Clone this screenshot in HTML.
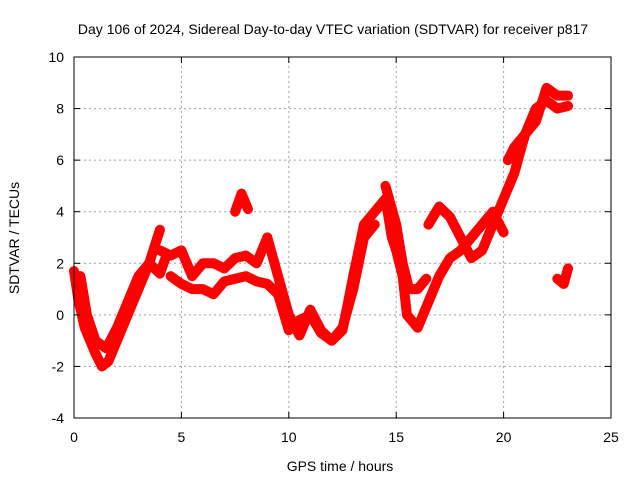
<!DOCTYPE html>
<html><head><meta charset="utf-8"><style>
body{margin:0;background:#fff}
svg{display:block;font-family:"Liberation Sans",sans-serif}
</style></head><body>
<svg id="chart" width="640" height="480" viewBox="0 0 640 480">
<text x="333" y="34" font-size="14" text-anchor="middle">Day 106 of 2024, Sidereal Day-to-day VTEC variation (SDTVAR) for receiver p817</text>
<text x="340" y="471" font-size="14" text-anchor="middle">GPS time / hours</text>
<text x="19" y="238" font-size="14" text-anchor="middle" transform="rotate(-90 19 238)">SDTVAR / TECUs</text>
<g id="grid"></g>
<g id="series"></g>
<rect x="74" y="57" width="537" height="361" fill="none" stroke="#000" stroke-width="1"/>
<g id="ticks"></g>
</svg>
<script>
const xTicks=[0,5,10,15,20,25];
const yTicks=[-4,-2,0,2,4,6,8,10];
const trackA=[[0,1.7],[0.2,0.6],[0.5,-0.5],[1.0,-1.5],[1.3,-2.0],[1.6,-1.8],[2,-1],[2.5,0],[3,1],[3.5,2],[4,3.3]];
const trackA2=[[0.3,1.5],[0.6,0],[1,-1],[1.5,-1.3],[2,-0.5],[2.5,0.5],[3,1.5],[3.5,2],[4,1.6],[4.3,2.3]];
const trackB=[[4,2.5],[4.5,2.3],[5,2.5],[5.5,1.5],[6,2],[6.5,2],[7,1.8],[7.5,2.2],[8,2.3],[8.5,2.0],[9,3]];
const trackC=[[4.5,1.5],[5,1.2],[5.5,1.0],[6,1.0],[6.5,0.8],[7,1.3],[7.5,1.4],[8,1.5],[8.5,1.3],[9,1.2],[9.5,0.8],[10,-0.6],[10.5,-0.2],[11,0],[11.5,-0.7],[12,-1],[12.5,-0.5],[13,1],[13.5,3],[14,3.5]];
const trackSpike=[[7.5,4.0],[7.8,4.7],[8.1,4.1]];
const trackD=[[9,3],[9.5,1.5],[10,0],[10.5,-0.8],[11,0.2],[11.5,-0.6],[12,-1],[12.5,-0.6],[13,1.5],[13.5,3.5],[14,4],[14.5,4.5],[14.8,3],[15,2.5],[15.3,1.5],[15.5,0],[16,-0.5],[16.5,0.5],[17,1.5],[17.5,2.2],[18,2.5],[18.5,3],[19,3.5],[19.5,4],[20,3.2]];
const trackE=[[14.5,5],[15,3.5],[15.3,2],[15.6,1.0],[16,1.0],[16.4,1.4]];
const trackF=[[16.5,3.5],[17,4.2],[17.5,3.8],[18,3],[18.5,2.2],[19,2.5],[19.5,3.5],[20,4.5],[20.5,5.5],[21,7],[21.5,7.5],[22,8.8],[22.5,8.5],[23,8.5]];
const trackG=[[20.2,6],[20.5,6.5],[21,7],[21.5,8],[22,8.3],[22.5,8],[23,8.1]];
const trackH=[[22.5,1.4],[22.8,1.2],[23,1.8]];
const tracks=[trackA,trackA2,trackB,trackC,trackSpike,trackD,trackE,trackF,trackG,trackH];
const X0=74,X1=611,Y0=418,Y1=57;
const sx=v=>X0+(v-0)/(25-0)*(X1-X0);
const sy=v=>Y0-(v+4)/(14)*(Y0-Y1);
const NS="http://www.w3.org/2000/svg";
const grid=document.getElementById('grid'),ticks=document.getElementById('ticks'),ser=document.getElementById('series');
function mk(t,a){const e=document.createElementNS(NS,t);for(const k in a)e.setAttribute(k,a[k]);return e;}
xTicks.forEach(v=>{
 const x=sx(v);
 if(v>0&&v<25){const g=mk('line',{x1:x,x2:x,y1:Y0,y2:Y1,stroke:'#a0a0a0','stroke-dasharray':'2,3'});
 
 grid.appendChild(g);}
 const t=mk('text',{x:x,y:Y0+24,'font-size':14,'text-anchor':'middle'});t.textContent=v;
 
 ticks.appendChild(t);
 ticks.appendChild(mk('line',{x1:x,x2:x,y1:Y0,y2:Y0-6,stroke:'#000'}));
 ticks.appendChild(mk('line',{x1:x,x2:x,y1:Y1,y2:Y1+6,stroke:'#000'}));
});
yTicks.forEach(v=>{
 const y=sy(v);
 if(v>-4&&v<10){const g=mk('line',{x1:X0,x2:X1,y1:y,y2:y,stroke:'#a0a0a0','stroke-dasharray':'2,3'});
 
 grid.appendChild(g);}
 const t=mk('text',{x:X0-10,y:y+5,'font-size':14,'text-anchor':'end'});t.textContent=v;
 
 ticks.appendChild(t);
 ticks.appendChild(mk('line',{x1:X0,x2:X0+6,y1:y,y2:y,stroke:'#000'}));
 ticks.appendChild(mk('line',{x1:X1,x2:X1-6,y1:y,y2:y,stroke:'#000'}));
});
tracks.forEach(tr=>{
 const p=mk('polyline',{points:tr.map(d=>sx(d[0])+','+sy(d[1])).join(' '),fill:'none',stroke:'#ff0000','stroke-width':10,'stroke-linejoin':'round','stroke-linecap':'round'});
 
 
 ser.appendChild(p);
});
</script>
</body></html>
